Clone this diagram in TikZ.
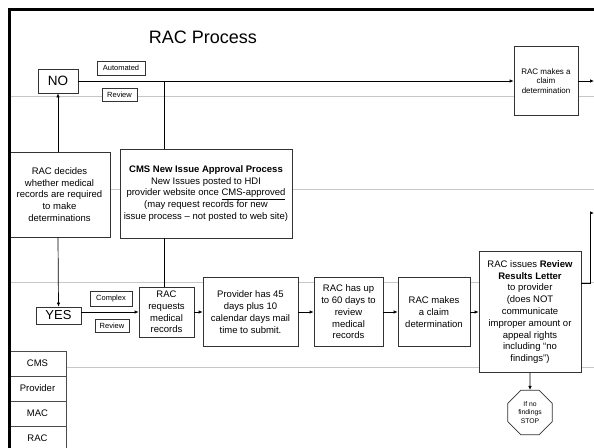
\documentclass[tikz,border=0pt]{standalone}
\usepackage{fontspec}
\setmainfont{Liberation Sans}
\usetikzlibrary{arrows.meta,shapes.geometric}
\begin{document}
\begin{tikzpicture}[x=1pt,y=-1pt,
  box/.style={draw=black!80, line width=0.7pt, fill=white, inner sep=1pt, align=center, font=\fontsize{9.5}{11.8}\selectfont},
  smallbox/.style={box, font=\fontsize{8}{9.6}\selectfont},
  tag/.style={draw=black!80, line width=0.6pt, fill=white, inner sep=0pt, font=\fontsize{7.5}{9}\selectfont},
  yesno/.style={draw=black!80, line width=0.7pt, fill=white, inner sep=0pt, font=\fontsize{13.5}{15}\selectfont},
  lane/.style={draw=black!22, line width=0.8pt},
  conn/.style={draw=black, line width=0.7pt},
  arr/.style={conn, -{Latex[length=4pt,width=3.5pt]}},
  cell/.style={draw=black!70, line width=0.7pt, fill=white, minimum width=57pt, minimum height=25pt, inner sep=0pt, font=\fontsize{9.5}{11}\selectfont},
  stopsign/.style={draw=black!80, line width=0.7pt, fill=white, regular polygon, regular polygon sides=8, minimum size=48pt, inner sep=0pt, align=center, font=\fontsize{6.8}{8.2}\selectfont},
]
\useasboundingbox (0,0) rectangle (594,447);
\clip (0,0) rectangle (594,447);
\fill[white] (0,0) rectangle (594,447);

% swimlane lines
\draw[lane] (9,96) -- (594,96);
\draw[lane] (9,189) -- (594,189);
\draw[lane] (9,282) -- (594,282);
\draw[lane] (66,367) -- (594,367);

% title
\node (title) at (203,37) {\fontsize{18}{20}\selectfont RAC Process};

% top row
\node[yesno, minimum width=40pt, minimum height=24pt] (no) at (58,81) {NO};
\node[tag, minimum width=48pt, minimum height=14pt] (auto) at (121,68) {Automated};
\node[tag, minimum width=35pt, minimum height=13pt] (rev1) at (119.5,94.5) {Review};
\node[smallbox, minimum width=64pt, minimum height=69pt] (claim1) at (546,81) {RAC makes a\\claim\\determination};

% middle row
\node[box, minimum width=101pt, minimum height=85pt] (rd) at (59.5,194.5) {RAC decides\\whether medical\\records are required\\to make\\determinations};
\node[box, minimum width=172pt, minimum height=89pt] (cms) at (206,193.5) {\textbf{CMS New Issue Approval Process}\\New Issues posted to HDI\\provider website once \underline{CMS-approved}\\(may request records for new\\issue process -- not posted to web site)};

% bottom row
\node[yesno, minimum width=45pt, minimum height=17pt, font=\fontsize{13}{15}\selectfont] (yes) at (58.5,315.5) {YES};
\node[tag, minimum width=42pt, minimum height=15pt] (complex) at (111,298.5) {Complex};
\node[tag, minimum width=34pt, minimum height=13pt] (rev2) at (112,325.5) {Review};
\node[box, minimum width=55pt, minimum height=50pt] (rr) at (166.5,312) {RAC\\requests\\medical\\records};
\node[box, minimum width=95pt, minimum height=69pt] (prov) at (250.5,312) {Provider has 45\\days plus 10\\calendar days mail\\time to submit.};
\node[box, minimum width=69pt, minimum height=69pt] (r60) at (348.5,312) {RAC has up\\to 60 days to\\review\\medical\\records};
\node[box, minimum width=72pt, minimum height=69pt] (claim2) at (434,312) {RAC makes\\a claim\\determination};
\node[box, minimum width=102pt, minimum height=121pt] (rril) at (530,312) {RAC issues \textbf{Review}\\\textbf{Results Letter}\\to provider\\(does NOT\\communicate\\improper amount or\\appeal rights\\including “no\\findings”)};
\node[stopsign] (stop) at (530,412.5) {If no\\findings\\STOP};

% lane labels
\node[cell] (lcms) at (37.5,363.5) {CMS};
\node[cell] (lprov) at (37.5,388.5) {Provider};
\node[cell] (lmac) at (37.5,413.5) {MAC};
\node[cell] (lrac) at (37.5,438.5) {RAC};

% connectors
\coordinate (j1) at (164,81);
\coordinate (out1) at (594,81);
\coordinate (k1) at (590,283);
\coordinate (out2) at (594,213);
\draw[conn] (no.east) -- (j1);
\draw[arr] (j1) -- (claim1.west);
\draw[conn] (j1) -- (j1 |- cms.north);
\draw[conn] (cms.south -| j1) -- (rr.north -| j1);
\draw[arr] (claim1.east) -- (out1);
\draw[arr] (no.south |- rd.north) -- (no.south);
\draw[arr] (no.south |- rd.south) -- (yes.north);
\draw[arr] (yes.east |- rr.west) -- (rr.west);
\draw[arr] (rr.east) -- (prov.west);
\draw[arr] (prov.east) -- (r60.west);
\draw[arr] (r60.east) -- (claim2.west);
\draw[arr] (claim2.east) -- (rril.west);
\draw[arr] (rril.east |- k1) -- (k1) |- (out2);
\draw[arr] (rril.south) -- (stop.north);

% frame
\draw[line width=3pt] (9,460) -- (9,9) -- (610,9);
\end{tikzpicture}
\end{document}
